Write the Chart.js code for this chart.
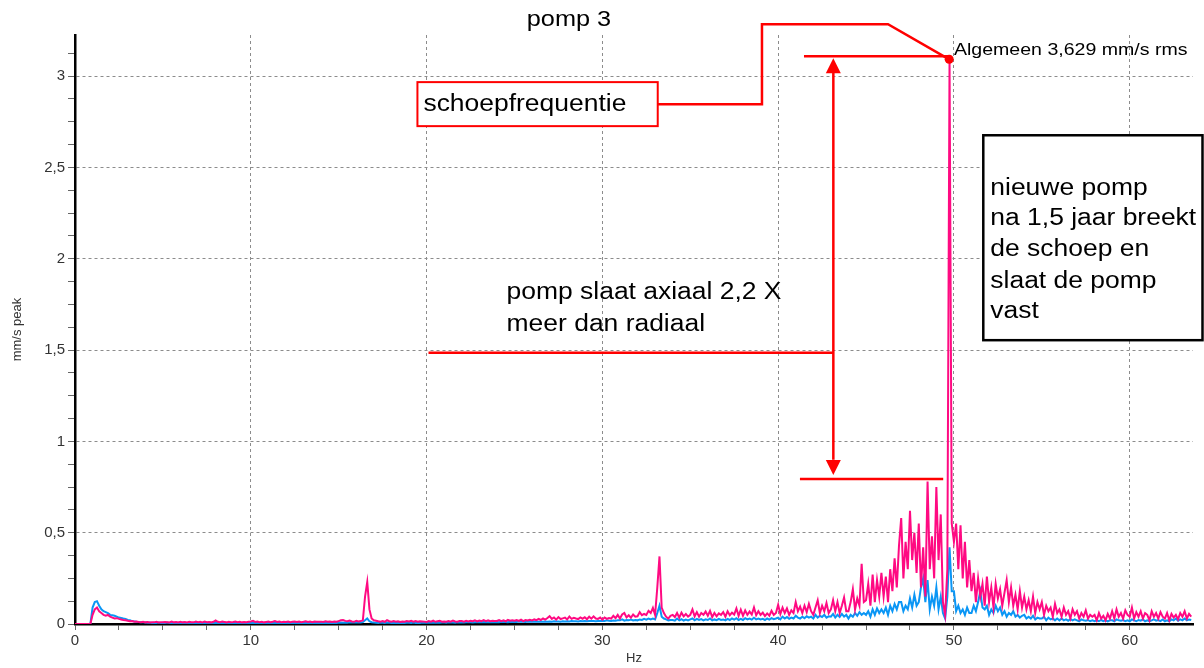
<!DOCTYPE html>
<html>
<head>
<meta charset="utf-8">
<title>pomp 3</title>
<script src="https://cdn.jsdelivr.net/npm/chart.js@4.4.1/dist/chart.umd.min.js"></script>
<style>
  html, body { margin: 0; padding: 0; background: #fff; }
  canvas { display: block; }
</style>
</head>
<body>
<canvas id="spectrum" width="1204" height="668"></canvas>
<script>
// spectrum, one value every 0.125 Hz starting at 0 Hz (one row per Hz)
var hzStep = 0.125
var pinkAxial = [
	0, 0, 0, 0, 0, 0, 0, 0,
	0.05, 0.08, 0.09, 0.07, 0.06, 0.05, 0.045, 0.05,
	0.04, 0.035, 0.03, 0.032, 0.028, 0.025, 0.022, 0.02,
	0.018, 0.015, 0.016, 0.012, 0.013, 0.011, 0.01, 0.012,
	0.009, 0.011, 0.008, 0.01, 0.009, 0.012, 0.008, 0.01,
	0.009, 0.011, 0.01, 0.008, 0.013, 0.009, 0.011, 0.008,
	0.012, 0.009, 0.011, 0.008, 0.012, 0.01, 0.009, 0.013,
	0.01, 0.012, 0.009, 0.014, 0.01, 0.011, 0.009, 0.012,
	0.019, 0.012, 0.01, 0.013, 0.011, 0.009, 0.012, 0.01,
	0.011, 0.013, 0.01, 0.012, 0.009, 0.011, 0.01, 0.012,
	0.014, 0.017, 0.011, 0.013, 0.01, 0.012, 0.009, 0.011,
	0.013, 0.01, 0.012, 0.016, 0.011, 0.013, 0.01, 0.012,
	0.011, 0.014, 0.01, 0.012, 0.013, 0.011, 0.014, 0.01,
	0.012, 0.015, 0.011, 0.013, 0.01, 0.014, 0.012, 0.013,
	0.013, 0.011, 0.015, 0.012, 0.014, 0.011, 0.013, 0.012,
	0.016, 0.02, 0.022, 0.017, 0.015, 0.019, 0.014, 0.012,
	0.018, 0.014, 0.016, 0.02, 0.15, 0.23, 0.08, 0.03,
	0.02, 0.018, 0.015, 0.013, 0.016, 0.012, 0.021, 0.015,
	0.013, 0.016, 0.012, 0.015, 0.011, 0.014, 0.012, 0.016,
	0.014, 0.017, 0.013, 0.016, 0.012, 0.015, 0.014, 0.013,
	0.011, 0.016, 0.013, 0.018, 0.012, 0.015, 0.017, 0.013,
	0.014, 0.012, 0.016, 0.013, 0.019, 0.014, 0.013, 0.016,
	0.016, 0.013, 0.018, 0.014, 0.017, 0.015, 0.02, 0.014,
	0.019, 0.015, 0.021, 0.016, 0.02, 0.015, 0.018, 0.016,
	0.017, 0.022, 0.016, 0.02, 0.015, 0.023, 0.018, 0.021,
	0.018, 0.021, 0.017, 0.024, 0.016, 0.022, 0.019, 0.023,
	0.02, 0.025, 0.021, 0.028, 0.022, 0.03, 0.024, 0.033,
	0.043, 0.028, 0.036, 0.024, 0.038, 0.027, 0.031, 0.035,
	0.025, 0.041, 0.028, 0.034, 0.03, 0.027, 0.036, 0.029,
	0.037, 0.026, 0.04, 0.029, 0.042, 0.03, 0.028, 0.035,
	0.024, 0.036, 0.028, 0.033, 0.03, 0.045, 0.032, 0.05,
	0.03, 0.052, 0.06, 0.036, 0.048, 0.035, 0.052, 0.04,
	0.042, 0.065, 0.048, 0.055, 0.05, 0.072, 0.06, 0.088,
	0.05, 0.2, 0.37, 0.09, 0.06, 0.04, 0.03, 0.045,
	0.05, 0.038, 0.06, 0.035, 0.062, 0.042, 0.055, 0.04,
	0.05, 0.08, 0.042, 0.065, 0.04, 0.06, 0.05, 0.068,
	0.045, 0.072, 0.038, 0.06, 0.042, 0.058, 0.05, 0.065,
	0.04, 0.07, 0.048, 0.062, 0.052, 0.085, 0.045, 0.078,
	0.045, 0.074, 0.05, 0.068, 0.052, 0.09, 0.048, 0.07,
	0.05, 0.062, 0.043, 0.058, 0.045, 0.072, 0.05, 0.06,
	0.105, 0.055, 0.09, 0.06, 0.085, 0.05, 0.075, 0.06,
	0.12, 0.07, 0.095, 0.06, 0.1, 0.065, 0.11, 0.07,
	0.05, 0.09, 0.13, 0.06, 0.1, 0.07, 0.115, 0.06,
	0.08, 0.13, 0.07, 0.12, 0.06, 0.1, 0.145, 0.07,
	0.07, 0.12, 0.19, 0.08, 0.14, 0.1, 0.33, 0.12,
	0.13, 0.22, 0.1, 0.27, 0.12, 0.24, 0.15, 0.28,
	0.15, 0.26, 0.12, 0.3, 0.18, 0.36, 0.2, 0.43,
	0.58, 0.25, 0.45, 0.3, 0.62, 0.35, 0.5, 0.28,
	0.55, 0.2, 0.42, 0.15, 0.78, 0.3, 0.48, 0.25,
	0.75, 0.35, 0.6, 0.12, 0.05, 0.3, 3.09, 0.55,
	0.45, 0.55, 0.3, 0.54, 0.25, 0.45, 0.2, 0.35,
	0.18, 0.28, 0.12, 0.25, 0.15, 0.22, 0.1, 0.26,
	0.12, 0.2, 0.09, 0.22, 0.14, 0.19, 0.1, 0.17,
	0.24, 0.12, 0.2, 0.1, 0.16, 0.08, 0.18, 0.09,
	0.15, 0.08, 0.13, 0.07, 0.15, 0.06, 0.12, 0.08,
	0.12, 0.05, 0.1, 0.07, 0.09, 0.04, 0.11, 0.06,
	0.08, 0.04, 0.09, 0.05, 0.07, 0.03, 0.08, 0.05,
	0.07, 0.03, 0.06, 0.04, 0.075, 0.03, 0.05, 0.04,
	0.05, 0.02, 0.06, 0.03, 0.045, 0.02, 0.055, 0.03,
	0.07, 0.03, 0.08, 0.04, 0.06, 0.03, 0.075, 0.05,
	0.04, 0.09, 0.03, 0.065, 0.04, 0.07, 0.03, 0.06,
	0.05, 0.02, 0.07, 0.04, 0.06, 0.03, 0.065, 0.04,
	0.03, 0.06, 0.02, 0.055, 0.035, 0.05, 0.025, 0.06,
	0.04, 0.07, 0.03, 0.055, 0.04
]
var blueRadial = [
	0, 0, 0, 0, 0, 0, 0, 0,
	0.09, 0.12, 0.125, 0.1, 0.08, 0.07, 0.065, 0.06,
	0.05, 0.048, 0.045, 0.04, 0.035, 0.033, 0.03, 0.028,
	0.022, 0.02, 0.016, 0.014, 0.012, 0.011, 0.01, 0.009,
	0.008, 0.007, 0.008, 0.006, 0.007, 0.006, 0.008, 0.006,
	0.007, 0.006, 0.008, 0.006, 0.007, 0.005, 0.006, 0.007,
	0.006, 0.007, 0.005, 0.006, 0.007, 0.005, 0.006, 0.005,
	0.005, 0.006, 0.005, 0.006, 0.005, 0.007, 0.005, 0.006,
	0.006, 0.005, 0.006, 0.005, 0.006, 0.005, 0.007, 0.005,
	0.005, 0.006, 0.005, 0.005, 0.006, 0.005, 0.006, 0.005,
	0.006, 0.005, 0.006, 0.005, 0.006, 0.005, 0.006, 0.005,
	0.005, 0.006, 0.005, 0.006, 0.005, 0.006, 0.005, 0.006,
	0.005, 0.006, 0.005, 0.006, 0.005, 0.006, 0.005, 0.006,
	0.006, 0.005, 0.006, 0.005, 0.006, 0.005, 0.006, 0.005,
	0.006, 0.005, 0.007, 0.006, 0.006, 0.005, 0.007, 0.006,
	0.007, 0.008, 0.007, 0.008, 0.007, 0.009, 0.008, 0.008,
	0.008, 0.009, 0.008, 0.01, 0.02, 0.03, 0.015, 0.01,
	0.008, 0.007, 0.006, 0.008, 0.007, 0.006, 0.008, 0.007,
	0.006, 0.007, 0.006, 0.007, 0.006, 0.007, 0.006, 0.007,
	0.007, 0.006, 0.008, 0.006, 0.007, 0.006, 0.008, 0.007,
	0.007, 0.008, 0.007, 0.008, 0.007, 0.008, 0.007, 0.008,
	0.008, 0.007, 0.009, 0.008, 0.008, 0.007, 0.009, 0.008,
	0.009, 0.008, 0.01, 0.009, 0.009, 0.008, 0.01, 0.009,
	0.01, 0.009, 0.011, 0.01, 0.01, 0.009, 0.011, 0.01,
	0.011, 0.01, 0.012, 0.011, 0.011, 0.01, 0.012, 0.011,
	0.012, 0.011, 0.013, 0.012, 0.012, 0.011, 0.013, 0.012,
	0.013, 0.012, 0.014, 0.013, 0.013, 0.012, 0.014, 0.013,
	0.014, 0.013, 0.015, 0.014, 0.014, 0.013, 0.015, 0.014,
	0.015, 0.014, 0.016, 0.015, 0.015, 0.014, 0.016, 0.015,
	0.016, 0.015, 0.017, 0.016, 0.016, 0.015, 0.017, 0.016,
	0.017, 0.016, 0.02, 0.018, 0.017, 0.019, 0.018, 0.02,
	0.02, 0.025, 0.018, 0.022, 0.02, 0.024, 0.019, 0.022,
	0.02, 0.025, 0.022, 0.028, 0.024, 0.03, 0.025, 0.03,
	0.025, 0.06, 0.1, 0.04, 0.03, 0.025, 0.02, 0.022,
	0.022, 0.018, 0.03, 0.02, 0.026, 0.019, 0.024, 0.02,
	0.025, 0.03, 0.02, 0.028, 0.022, 0.027, 0.02, 0.026,
	0.022, 0.03, 0.02, 0.025, 0.021, 0.028, 0.022, 0.025,
	0.02, 0.028, 0.022, 0.03, 0.024, 0.032, 0.022, 0.028,
	0.022, 0.032, 0.025, 0.03, 0.024, 0.034, 0.025, 0.03,
	0.025, 0.028, 0.022, 0.03, 0.024, 0.032, 0.026, 0.03,
	0.035, 0.025, 0.04, 0.03, 0.038, 0.028, 0.035, 0.03,
	0.045, 0.035, 0.03, 0.04, 0.032, 0.042, 0.035, 0.04,
	0.03, 0.05, 0.035, 0.045, 0.038, 0.05, 0.035, 0.042,
	0.04, 0.055, 0.035, 0.05, 0.038, 0.055, 0.04, 0.05,
	0.03, 0.05, 0.04, 0.06, 0.045, 0.065, 0.05, 0.06,
	0.05, 0.07, 0.04, 0.08, 0.05, 0.085, 0.06, 0.08,
	0.06, 0.09, 0.05, 0.1, 0.07, 0.11, 0.08, 0.12,
	0.12, 0.07, 0.1, 0.08, 0.14, 0.09, 0.16, 0.1,
	0.12, 0.2, 0.25, 0.12, 0.24, 0.08, 0.15, 0.1,
	0.2, 0.08, 0.15, 0.06, 0.03, 0.15, 0.42, 0.18,
	0.18, 0.07, 0.1, 0.06, 0.08, 0.05, 0.09, 0.06,
	0.06, 0.1, 0.07, 0.12, 0.18, 0.09, 0.08, 0.1,
	0.05, 0.08, 0.06, 0.1, 0.07, 0.09, 0.05, 0.07,
	0.04, 0.06, 0.05, 0.07, 0.04, 0.05, 0.035, 0.045,
	0.05, 0.03, 0.04, 0.03, 0.045, 0.025, 0.035, 0.03,
	0.03, 0.04, 0.02, 0.035, 0.025, 0.03, 0.02, 0.03,
	0.02, 0.03, 0.02, 0.025, 0.018, 0.028, 0.02, 0.025,
	0.02, 0.015, 0.025, 0.02, 0.018, 0.022, 0.015, 0.02,
	0.015, 0.02, 0.015, 0.022, 0.016, 0.02, 0.014, 0.02,
	0.02, 0.015, 0.025, 0.02, 0.018, 0.022, 0.016, 0.02,
	0.015, 0.025, 0.02, 0.015, 0.022, 0.018, 0.025, 0.015,
	0.02, 0.015, 0.02, 0.025, 0.018, 0.022, 0.016, 0.025,
	0.015, 0.02, 0.015, 0.025, 0.02, 0.03, 0.018, 0.025,
	0.02, 0.03, 0.02, 0.025, 0.022
]
var freq = pinkAxial.map(function(v, i) { return i * hzStep })

var xMax = 63.6, yMax = 3.225
var xMinorStep = 2.5, xMajorStep = 10
var yMinorStep = 0.125, yMajorStep = 0.5

// annotation texts, positions in Hz / mm/s
var chartTitle = "pomp 3"
var peakLabel = "Algemeen 3,629 mm/s rms"
var bladeLabel = "schoepfrequentie"
var axialNote = ["pomp slaat axiaal 2,2 X", "meer dan radiaal"]
var boxNote = ["nieuwe pomp", "na 1,5 jaar breekt", "de schoep en", "slaat de pomp", "vast"]

function toPoints(values) {
	return values.map(function(v, i) { return {x: freq[i], y: v} })
}
function onStep(value, step) {
	var r = value / step
	return Math.abs(r - Math.round(r)) < 1e-6
}
function comma(v) {
	return String(Math.round(v * 1000) / 1000).replace(".", ",")
}

var FONT = '"Liberation Sans", Arial, sans-serif'
var RED = "#ff0000"

var annotate = {
	id: "annotate",
	afterDraw: function(chart) {
		var ctx = chart.ctx
		var x = chart.scales.x, y = chart.scales.y
		function px(v) { return x.getPixelForValue(v) }
		function py(v) { return y.getPixelForValue(v) }
		function text(str, hz, val, size, align) {
			ctx.save()
			ctx.translate(px(hz), py(val))
			ctx.scale(1.15, 1)
			ctx.font = size + "px " + FONT
			ctx.fillStyle = "#000"
			ctx.textBaseline = "middle"
			ctx.textAlign = align || "left"
			ctx.fillText(str, 0, 0)
			ctx.restore()
		}
		function polyline(pts) {
			ctx.beginPath()
			ctx.moveTo(px(pts[0][0]), py(pts[0][1]))
			for (var i = 1; i < pts.length; i++) ctx.lineTo(px(pts[i][0]), py(pts[i][1]))
			ctx.stroke()
		}
		function arrowHead(hz, val, dir) {
			var tx = px(hz), ty = py(val)
			ctx.beginPath()
			ctx.moveTo(tx, ty)
			ctx.lineTo(tx - 7.5, ty + dir * 15)
			ctx.lineTo(tx + 7.5, ty + dir * 15)
			ctx.closePath()
			ctx.fill()
		}

		ctx.save()
		text(chartTitle, 28.1, 3.31, 22, "center")

		ctx.strokeStyle = RED
		ctx.fillStyle = RED
		ctx.lineWidth = 2.5
		ctx.lineJoin = "miter"
		// callout from the peak to the label box
		polyline([[49.73, 3.092], [46.25, 3.284], [39.08, 3.284], [39.08, 2.846], [33.15, 2.846]])
		// reference lines and double arrow
		polyline([[41.47, 3.109], [49.73, 3.109]])
		polyline([[41.24, 0.794], [49.39, 0.794]])
		polyline([[20.11, 1.485], [43.14, 1.485]])
		polyline([[43.14, 3.02], [43.14, 0.9]])
		arrowHead(43.14, 3.098, 1)
		arrowHead(43.14, 0.816, -1)

		// label box
		var bx0 = px(19.48), bx1 = px(33.15), by0 = py(2.967), by1 = py(2.726)
		ctx.fillStyle = "#fff"
		ctx.fillRect(bx0, by0, bx1 - bx0, by1 - by0)
		ctx.lineWidth = 2
		ctx.strokeRect(bx0, by0, bx1 - bx0, by1 - by0)
		text(bladeLabel, 19.82, 2.846, 23)

		// peak dot
		ctx.fillStyle = RED
		ctx.beginPath()
		ctx.arc(px(49.73), py(3.092), 4.5, 0, Math.PI * 2)
		ctx.fill()
		text(peakLabel, 50.0, 3.142, 17)

		text(axialNote[0], 24.55, 1.812, 23)
		text(axialNote[1], 24.55, 1.637, 23)

		// black note box
		var nx0 = px(51.67), nx1 = px(64.14), ny0 = py(2.676), ny1 = py(1.554)
		ctx.fillStyle = "#fff"
		ctx.fillRect(nx0, ny0, nx1 - nx0, ny1 - ny0)
		ctx.strokeStyle = "#000"
		ctx.lineWidth = 2.5
		ctx.strokeRect(nx0, ny0, nx1 - nx0, ny1 - ny0)
		var lineVals = [2.386, 2.217, 2.047, 1.877, 1.708]
		for (var i = 0; i < boxNote.length; i++) text(boxNote[i], 52.07, lineVals[i], 23)
		ctx.restore()
	}
}

new Chart(document.getElementById("spectrum"), {
	type: "line",
	data: {
		datasets: [{
			label: "axiaal",
			data: toPoints(pinkAxial),
			borderColor: "#ff0a82",
			borderWidth: 2,
			pointRadius: 0,
			tension: 0
		}, {
			label: "radiaal",
			data: toPoints(blueRadial),
			borderColor: "#0a96f5",
			borderWidth: 2,
			pointRadius: 0,
			tension: 0
		}]
	},
	options: {
		responsive: false,
		animation: false,
		layout: { padding: { left: 0, right: 11, top: 35, bottom: 0 } },
		plugins: { legend: { display: false }, tooltip: { enabled: false }, title: { display: false } },
		scales: {
			x: {
				type: "linear",
				min: 0,
				max: xMax,
				afterFit: function(scale) { scale.height = 44 },
				afterBuildTicks: function(scale) {
					scale.ticks = scale.ticks.filter(function(t) { return onStep(t.value, xMinorStep) })
				},
				ticks: {
					stepSize: xMinorStep,
					autoSkip: false,
					maxRotation: 0,
					padding: 2,
					color: "#333",
					font: { family: FONT, size: 15 },
					callback: function(v) { return onStep(v, xMajorStep) ? comma(v) : "" }
				},
				grid: {
					color: function(c) { return c.tick && onStep(c.tick.value, xMajorStep) ? "#8c8c8c" : "rgba(0,0,0,0)" },
					tickColor: "#666",
					tickLength: 6,
					tickBorderDash: [],
					lineWidth: 1
				},
				border: { display: true, color: "#000", width: 2.5, dash: [3, 3] },
				title: { display: true, text: "Hz", color: "#333", font: { family: FONT, size: 13 }, padding: { top: 0, bottom: 2 } }
			},
			y: {
				min: 0,
				max: yMax,
				afterFit: function(scale) { scale.width = 75 },
				afterBuildTicks: function(scale) {
					scale.ticks = scale.ticks.filter(function(t) { return onStep(t.value, yMinorStep) })
				},
				ticks: {
					stepSize: yMinorStep,
					autoSkip: false,
					padding: 3,
					color: "#333",
					font: { family: FONT, size: 15 },
					callback: function(v) { return onStep(v, yMajorStep) ? comma(v) : "" }
				},
				grid: {
					color: function(c) { return c.tick && onStep(c.tick.value, yMajorStep) ? "#8c8c8c" : "rgba(0,0,0,0)" },
					tickColor: "#666",
					tickLength: 7,
					tickBorderDash: [],
					lineWidth: 1
				},
				border: { display: true, color: "#000", width: 2.5, dash: [3, 3] },
				title: { display: true, text: "mm/s peak", color: "#333", font: { family: FONT, size: 13 }, padding: { top: 10, bottom: 0 } }
			}
		}
	},
	plugins: [annotate]
})
</script>
</body>
</html>
